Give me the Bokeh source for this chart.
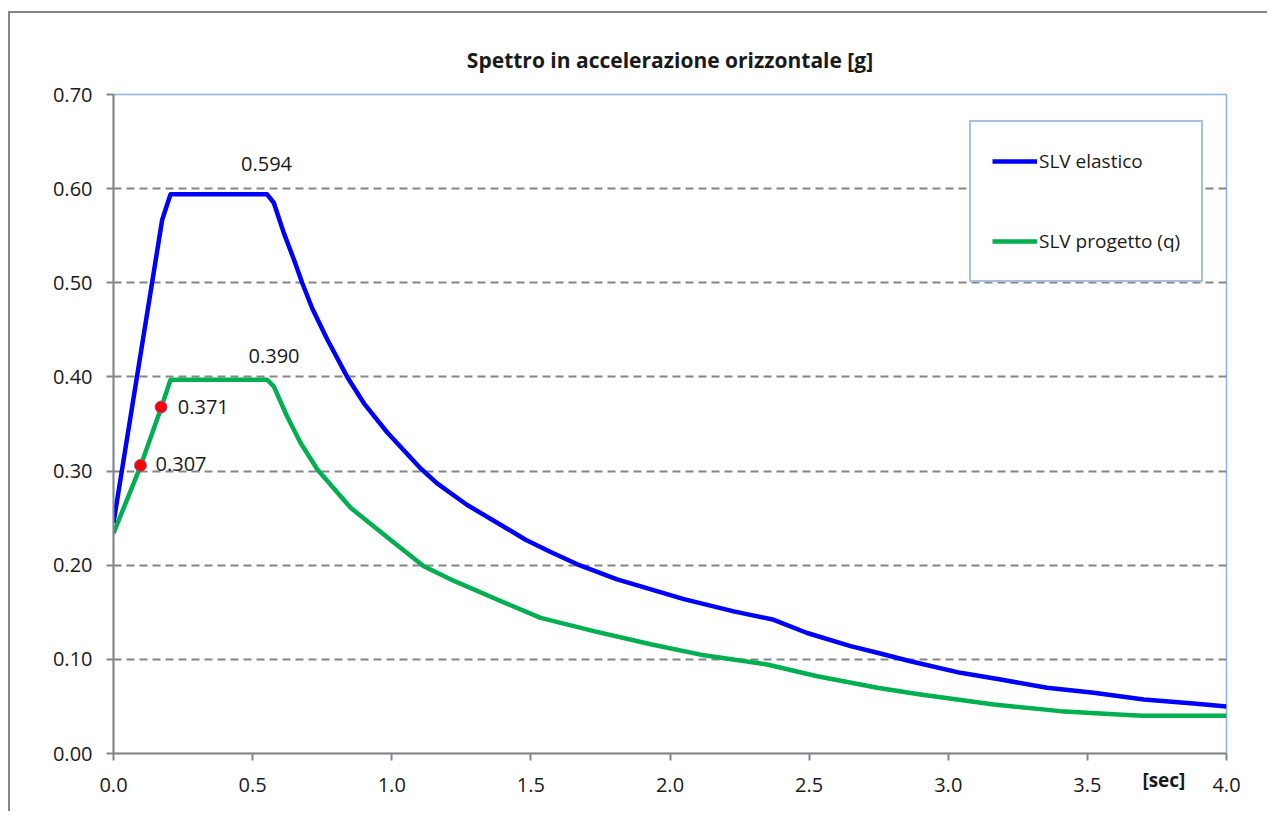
from bokeh.plotting import figure
from bokeh.models import (Range1d, FixedTicker, NumeralTickFormatter, Legend, LegendItem,
                          LinearAxis, Title)
from bokeh.core.properties import value
from bokeh.embed import file_html
from bokeh.resources import INLINE

# ---------------- data ----------------
T_elastic = [0.0, 0.175, 0.205, 0.552, 0.576, 0.612, 0.648, 0.678, 0.714, 0.768, 0.84, 0.90,
             0.984, 1.103, 1.163, 1.271, 1.391, 1.481, 1.571, 1.667, 1.81, 2.05, 2.229, 2.373,
             2.493, 2.649, 2.745, 2.864, 3.044, 3.188, 3.355, 3.523, 3.703, 3.882, 4.0]
Se_elastic = [0.245, 0.567, 0.594, 0.594, 0.585, 0.553, 0.525, 0.500, 0.473, 0.440, 0.400, 0.372,
              0.341, 0.303, 0.287, 0.264, 0.243, 0.227, 0.214, 0.201, 0.185, 0.164, 0.151, 0.142,
              0.128, 0.114, 0.107, 0.098, 0.0857, 0.0786, 0.0698, 0.0645, 0.0574, 0.053, 0.050]

T_design = [0.0, 0.097, 0.171, 0.205, 0.552, 0.576, 0.624, 0.672, 0.732, 0.852, 0.995,
            1.115, 1.211, 1.391, 1.535, 1.726, 1.93, 2.11, 2.349, 2.529, 2.745, 2.9, 3.164,
            3.403, 3.643, 3.70, 4.0]
Se_design = [0.234, 0.305, 0.367, 0.397, 0.397, 0.390, 0.358, 0.330, 0.302, 0.261, 0.227,
             0.199, 0.185, 0.162, 0.144, 0.130, 0.116, 0.105, 0.0945, 0.082, 0.0698, 0.0627, 0.052,
             0.045, 0.041, 0.040, 0.040]

T_points = [0.097, 0.171]
Se_points = [0.306, 0.368]
point_labels = ["0.307", "0.371"]

peak_labels = ["0.594", "0.390"]

series_names = ["SLV elastico", "SLV progetto (q)"]
title_text = "Spettro in accelerazione orizzontale [g]"
x_unit_label = "[sec]"

x_ticks = [0.0, 0.5, 1.0, 1.5, 2.0, 2.5, 3.0, 3.5, 4.0]
y_ticks = [0.0, 0.1, 0.2, 0.3, 0.4, 0.5, 0.6, 0.7]

# ---------------- styling ----------------
FONT = "Open Sans"
TXT = "#1a1a1a"
AXIS = "#868686"
BLUE = "#0000FF"
GREEN = "#00B050"

W, H = 1259, 800
p = figure(width=W, height=H, output_backend="svg", toolbar_location=None,
           x_range=Range1d(0, 4), y_range=Range1d(0, 0.7),
           min_border_left=103, min_border_right=43, min_border_top=81, min_border_bottom=60)
p.styles = {"border-left": "2px solid #868686", "border-top": "2px solid #868686",
            "margin-top": "11px", "margin-left": "8px"}

p.title = Title(text=title_text, align="center", text_font=FONT, text_font_size="21px",
                text_font_style="bold", text_color=TXT, standoff=41)

p.background_fill_color = "white"
p.border_fill_color = "white"
p.outline_line_color = "#8DB3E2"
p.outline_line_width = 1.5

for ax in (p.xaxis[0], p.yaxis[0]):
    ax.axis_line_color = AXIS
    ax.axis_line_width = 2
    ax.major_tick_line_color = AXIS
    ax.major_tick_line_width = 2
    ax.major_tick_in = 0
    ax.major_tick_out = 7
    ax.minor_tick_line_color = None
    ax.major_label_text_font = FONT
    ax.major_label_text_font_size = "20px"
    ax.major_label_text_color = TXT

p.xaxis.ticker = FixedTicker(ticks=x_ticks)
p.xaxis.formatter = NumeralTickFormatter(format="0.0")
p.xaxis.major_label_standoff = 17
p.yaxis.ticker = FixedTicker(ticks=y_ticks)
p.yaxis.formatter = NumeralTickFormatter(format="0.00")
p.yaxis.major_label_standoff = 14

p.xgrid.grid_line_color = None
p.ygrid.grid_line_color = "#868686"
p.ygrid.grid_line_width = 2
p.ygrid.grid_line_dash = "8 5"

r1 = p.line(T_elastic, Se_elastic, line_color=BLUE, line_width=4.5, line_join="round")
r2 = p.line(T_design, Se_design, line_color=GREEN, line_width=4.5, line_join="round")

p.scatter(T_points, Se_points, size=12, fill_color="#FF0000", line_color="#8060A0",
          line_width=1)

# annotation texts
label_style = dict(text_font=value(FONT), text_font_size="20px", text_color=TXT)
p.text(x=[0.55, 0.577], y=[0.626, 0.422], text=peak_labels, text_align="center",
       text_baseline="middle", **label_style)
p.text(x=[0.151, 0.231], y=[0.307, 0.368], text=point_labels, text_align="left",
       text_baseline="middle", **label_style)

# "[sec]" unit label, drawn as a label-only axis sharing the row of the x tick labels
unit_pos = 3.775
unit_axis = LinearAxis(ticker=FixedTicker(ticks=[unit_pos]),
                       major_label_overrides={unit_pos: x_unit_label},
                       axis_line_color=None, major_tick_line_color=None,
                       major_tick_in=0, major_tick_out=0, minor_tick_line_color=None,
                       major_label_standoff=-28, major_label_text_font=FONT,
                       major_label_text_font_size="19px", major_label_text_font_style="bold",
                       major_label_text_color=TXT)
p.add_layout(unit_axis, "below")

legend = Legend(items=[LegendItem(label=series_names[0], renderers=[r1]),
                       LegendItem(label=series_names[1], renderers=[r2])],
                location=(856, 471), orientation="vertical",
                margin=0, padding=21, spacing=44,
                glyph_width=45, glyph_height=36, label_height=36, label_standoff=2,
                label_text_font=FONT, label_text_font_size="19px", label_text_color=TXT,
                border_line_color="#4F81BD", border_line_width=2,
                background_fill_color="white", background_fill_alpha=1)
p.add_layout(legend)

open("out.html", "w").write(file_html(p, INLINE))
